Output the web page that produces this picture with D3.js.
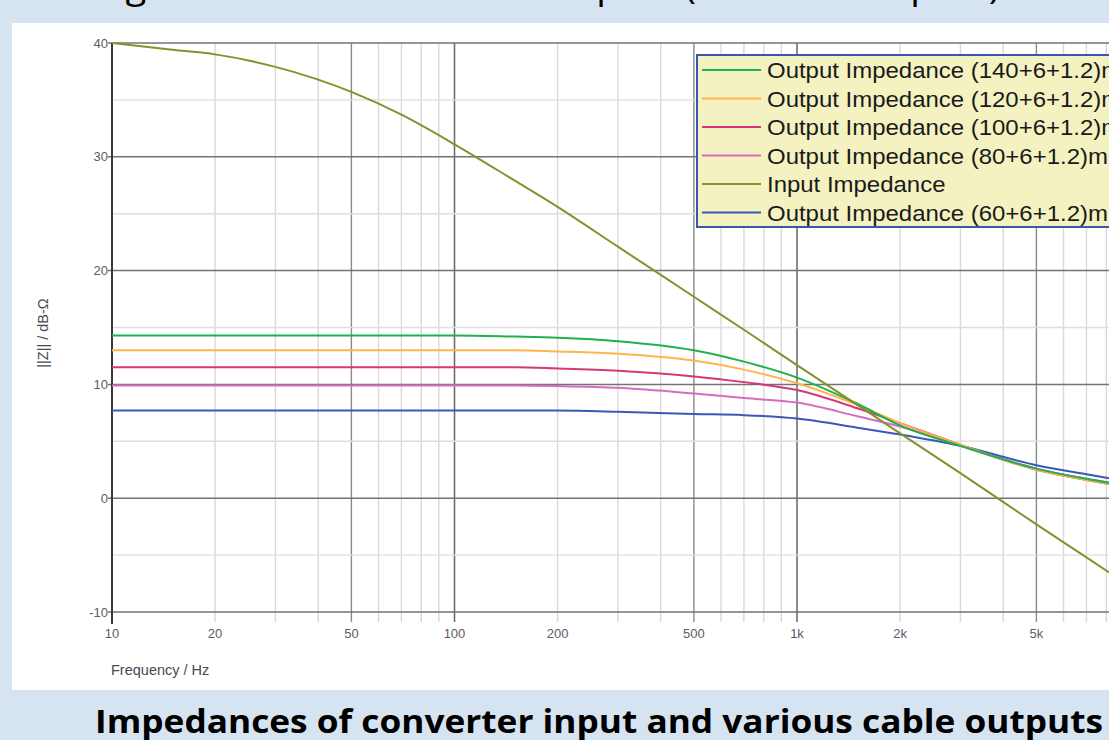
<!DOCTYPE html>
<html>
<head>
<meta charset="utf-8">
<script src="https://cdn.jsdelivr.net/npm/d3@7"></script>
<style>
  html, body { margin: 0; padding: 0; background: #d6e4f1; overflow: hidden; }
  svg { display: block; }
</style>
</head>
<body>
<svg id="chart" width="1109" height="740"></svg>
<script>
const freqs = [10, 15, 20, 30, 50, 70, 100, 150, 200, 300, 500, 700, 1000, 1500, 2000, 3000, 5000, 7000, 10000];

// |Z| in dB-Ohm
const inputImpedance = [40.0, 39.4, 39.0, 37.9, 35.7, 33.7, 31.1, 27.9, 25.6, 22.1, 17.7, 14.8, 11.7, 8.2, 5.7, 2.2, -2.3, -5.2, -8.3];
const out140 = [14.3, 14.3, 14.3, 14.3, 14.3, 14.3, 14.3, 14.2, 14.1, 13.8, 13.0, 12.0, 10.6, 8.3, 6.4, 4.6, 2.6, 1.7, 0.9];
const out120 = [13.0, 13.0, 13.0, 13.0, 13.0, 13.0, 13.0, 13.0, 12.9, 12.7, 12.1, 11.3, 10.1, 8.2, 6.6, 4.7, 2.5, 1.6, 0.8];
const out100 = [11.5, 11.5, 11.5, 11.5, 11.5, 11.5, 11.5, 11.5, 11.4, 11.2, 10.7, 10.2, 9.5, 7.9, 6.6, 4.7, 2.5, 1.6, 0.8];
const out80 = [9.9, 9.9, 9.9, 9.9, 9.9, 9.9, 9.9, 9.9, 9.85, 9.7, 9.2, 8.8, 8.4, 7.2, 6.3, 4.6, 2.6, 1.7, 0.9];
const out60 = [7.7, 7.7, 7.7, 7.7, 7.7, 7.7, 7.7, 7.7, 7.7, 7.6, 7.4, 7.3, 7.0, 6.2, 5.6, 4.6, 2.9, 2.1, 1.3];

// Legend order as in the picture
const seriesNames = [
  "Output Impedance (140+6+1.2)m",
  "Output Impedance (120+6+1.2)m",
  "Output Impedance (100+6+1.2)m",
  "Output Impedance (80+6+1.2)m",
  "Input Impedance",
  "Output Impedance (60+6+1.2)m"
];
const seriesValues = [out140, out120, out100, out80, inputImpedance, out60];
const seriesColors = ["#1fb14c", "#ffb44c", "#d5377a", "#d56cc2", "#8a8f2c", "#3a58b6"];
const drawOrder = [5, 3, 2, 1, 0, 4];

const xTickValues = [10, 20, 50, 100, 200, 500, 1000, 2000, 5000];
const xTickLabels = ["10", "20", "50", "100", "200", "500", "1k", "2k", "5k"];
const yTickValues = [-10, 0, 10, 20, 30, 40];
const yMinorValues = [-5, 5, 15, 25, 35];

const svg = d3.select("#chart");

// slide title, cut off at the top of the screenshot
svg.append("text")
  .attr("x", 95).attr("y", -2)
  .attr("textLength", 905).attr("lengthAdjust", "spacingAndGlyphs")
  .attr("font-family", "Open Sans, sans-serif")
  .attr("font-size", 36)
  .attr("fill", "#000")
  .text("Signal levels at the cable outputs (converter inputs)");

// white panel
svg.append("rect")
  .attr("x", 12).attr("y", 23)
  .attr("width", 1109).attr("height", 667)
  .attr("fill", "#fff");

const x = d3.scaleLog().domain([10, 10000]).range([112, 1139.5]);
const y = d3.scaleLinear().domain([-10, 40]).range([612, 43]);
const plotRight = 1109;

const grid = svg.append("g");

// vertical grid
const majorF = [10, 100, 1000, 10000];
const midF = [50, 500, 5000];
x.ticks().forEach(f => {
  const isMajor = majorF.includes(f);
  const isMid = midF.includes(f);
  grid.append("line")
    .attr("x1", x(f)).attr("x2", x(f))
    .attr("y1", y(40)).attr("y2", y(-10) + 10)
    .attr("stroke", isMajor ? "#6e6e6e" : isMid ? "#8a8a8a" : "#d9d9d9")
    .attr("stroke-width", isMajor ? 1.6 : 1.4);
});

// horizontal grid
yMinorValues.forEach(v => {
  grid.append("line")
    .attr("x1", x(10)).attr("x2", plotRight)
    .attr("y1", y(v)).attr("y2", y(v))
    .attr("stroke", "#dedede").attr("stroke-width", 1.4);
});
yTickValues.forEach(v => {
  grid.append("line")
    .attr("x1", x(10) - 4).attr("x2", plotRight)
    .attr("y1", y(v)).attr("y2", y(v))
    .attr("stroke", "#737373").attr("stroke-width", 1.5);
});

// left axis line
svg.append("line")
  .attr("x1", x(10)).attr("x2", x(10))
  .attr("y1", y(40)).attr("y2", y(-10) + 12)
  .attr("stroke", "#3a3a3a").attr("stroke-width", 2);

// tick labels
const labelFont = "Liberation Sans, Arial, sans-serif";
svg.append("g").selectAll("text")
  .data(yTickValues)
  .enter().append("text")
  .attr("x", x(10) - 4)
  .attr("y", d => y(d) + 4.5)
  .attr("text-anchor", "end")
  .attr("font-family", labelFont).attr("font-size", 13)
  .attr("fill", "#5b5b66")
  .text(d => d);

svg.append("g").selectAll("text")
  .data(xTickValues)
  .enter().append("text")
  .attr("x", d => x(d))
  .attr("y", y(-10) + 26)
  .attr("text-anchor", "middle")
  .attr("font-family", labelFont).attr("font-size", 13)
  .attr("fill", "#5b5b66")
  .text((d, i) => xTickLabels[i]);

svg.append("text")
  .attr("x", x(10) - 1).attr("y", 675)
  .attr("font-family", labelFont).attr("font-size", 14.5)
  .attr("fill", "#4a4a55")
  .text("Frequency / Hz");

svg.append("text")
  .attr("transform", "translate(48,333) rotate(-90)")
  .attr("text-anchor", "middle")
  .attr("font-family", labelFont).attr("font-size", 14.5)
  .attr("fill", "#4a4a55")
  .text("||Z|| / dB-Ω");

// curves
svg.append("clipPath").attr("id", "plot-clip")
  .append("rect")
  .attr("x", x(10)).attr("y", y(40) - 2)
  .attr("width", plotRight - x(10)).attr("height", y(-10) - y(40) + 4);

const line = d3.line()
  .x((d, i) => x(freqs[i]))
  .y(d => y(d))
  .curve(d3.curveMonotoneX);

const curves = svg.append("g").attr("clip-path", "url(#plot-clip)");
drawOrder.forEach(i => {
  curves.append("path")
    .datum(seriesValues[i])
    .attr("d", line)
    .attr("fill", "none")
    .attr("stroke", seriesColors[i])
    .attr("stroke-width", 2);
});

// legend
const legend = svg.append("g");
legend.append("rect")
  .attr("x", 697).attr("y", 55)
  .attr("width", 430).attr("height", 172)
  .attr("fill", "#f4f2c1")
  .attr("stroke", "#3b56b2").attr("stroke-width", 2);

seriesNames.forEach((name, i) => {
  const cy = 70 + i * 28.5;
  legend.append("line")
    .attr("x1", 702).attr("x2", 761)
    .attr("y1", cy).attr("y2", cy)
    .attr("stroke", seriesColors[i]).attr("stroke-width", 2);
  legend.append("text")
    .attr("transform", `translate(767,${cy + 8}) scale(1.065,1)`)
    .attr("font-family", labelFont).attr("font-size", 22.5)
    .attr("fill", "#1a1a1a")
    .text(name);
});

// caption
svg.append("text")
  .attr("x", 95).attr("y", 733)
  .attr("textLength", 1008).attr("lengthAdjust", "spacingAndGlyphs")
  .attr("font-family", "Open Sans, sans-serif")
  .attr("font-weight", "bold")
  .attr("font-size", 32)
  .attr("fill", "#000")
  .text("Impedances of converter input and various cable outputs");
</script>
</body>
</html>
